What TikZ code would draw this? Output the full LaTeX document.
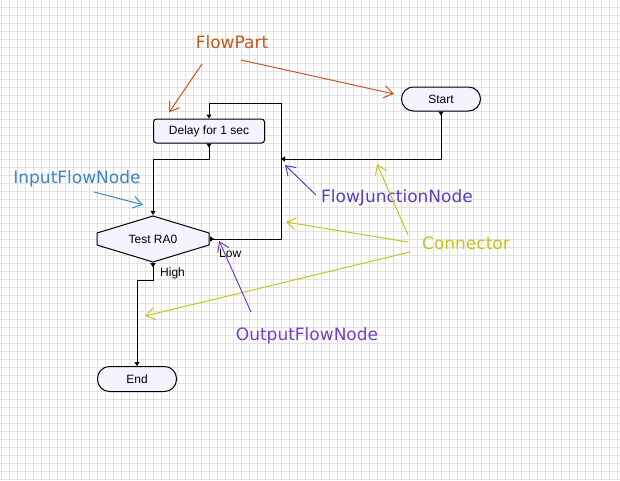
\documentclass[tikz,border=0pt]{standalone}
\usepackage{fontspec}
\setmainfont{Liberation Sans}
\newfontfamily\notefont{DejaVu Sans}
\usepackage{xcolor}
\usepackage{tikz}
\usetikzlibrary{arrows.meta}

\definecolor{partcol}{HTML}{C8561E}
\definecolor{inputcol}{HTML}{3D85C8}
\definecolor{junccol}{HTML}{5A3CCB}
\definecolor{conncol}{HTML}{C4C41E}
\definecolor{outputcol}{HTML}{7340CB}
\definecolor{gridcol}{HTML}{E2E2E2}
\definecolor{partfill}{HTML}{F4F4FF}

\begin{document}
\begin{tikzpicture}[x=1pt,y=-1pt,
    partfont/.style={font=\fontsize{12}{14}\selectfont},
    flowpart/.style={draw,fill=partfill,line width=1pt,minimum height=24pt,inner sep=0pt,partfont},
    terminal/.style={flowpart,rounded corners=12pt,minimum width=79pt},
    hexpart/.style={minimum width=114pt,minimum height=48pt,inner sep=0pt,partfont,
      path picture={\draw[line width=1pt,fill=partfill]
        ([shift={(1pt,6pt)}]path picture bounding box.west) -- ([yshift=-1pt]path picture bounding box.north)
        -- ([shift={(-1pt,6pt)}]path picture bounding box.east) -- ([shift={(-1pt,-6pt)}]path picture bounding box.east)
        -- ([yshift=1pt]path picture bounding box.south) -- ([shift={(1pt,-6pt)}]path picture bounding box.west) -- cycle;}},
    flow/.style={line width=1pt,{Triangle[length=4pt,width=5pt,reversed]}-{Triangle[length=4pt,width=5pt]}},
    note/.style={font=\notefont\fontsize{17}{20}\selectfont,anchor=base,inner sep=0pt,text=#1},
    pointer/.style={#1,line width=1pt,-{Straight Barb[length=9pt,width=12pt]}}]

    \fill[white] (0,0) rectangle (620,480);
    \useasboundingbox (0,0) rectangle (620,480);
    \foreach \x in {1,9,...,617} \draw[gridcol,line width=1pt] (\x,0) -- (\x,480);
    \foreach \y in {7,15,...,479} \draw[gridcol,line width=1pt] (0,\y) -- (620,\y);

    \node [terminal] (start) at (441,99) {Start};
    \node [flowpart,rounded corners=3pt,minimum width=111pt] (delay) at (209,131) {Delay for 1 sec};
    \node [hexpart] (test) at (153,239) {Test RA0};
    \node [terminal,minimum height=25pt] (end) at (137,379) {End};
    \coordinate (junc) at (281,159);
    \coordinate (looptop) at (281,103);

    \draw [flow] (start.south) |- (junc);
    \draw [flow] (test.east) -| (looptop) -| (delay.north);
    \draw [flow] (delay.south) -- ++(0,16) -| (test.north);
    \draw [flow] (test.south) -- ++(0,17) -| (end.north);
    \node [partfont,anchor=base west,inner sep=0pt] (high) at (160,276) {High};
    \node [partfont,anchor=base west,inner sep=0pt] (low) at (219,257) {Low};

    \node [note=partcol] (partnote) at (232,48) {FlowPart};
    \node [note=inputcol] (inputnote) at (77,183) {InputFlowNode};
    \node [note=junccol] (juncnote) at (397,202) {FlowJunctionNode};
    \node [note=conncol] (connnote) at (466,249) {Connector};
    \node [note=outputcol] (outputnote) at (307,340) {OutputFlowNode};

    \draw [pointer=partcol] ([shift={(-30,16)}]partnote.base) -- ([shift={(16,-6)}]delay.north west);
    \draw [pointer=partcol] ([shift={(9,12)}]partnote.base) -- ([shift={(-7,-5)}]start.west);
    \draw [pointer=inputcol] ([shift={(17,9)}]inputnote.base) -- ([shift={(-10,-10)}]test.north);
    \draw [pointer=junccol] ([shift={(-81,-7)}]juncnote.base) -- ([shift={(4,6)}]junc);
    \draw [pointer=conncol] ([shift={(-58,-14)}]connnote.base) -- ([shift={(96,5)}]junc);
    \draw [pointer=conncol] ([shift={(-58,-7)}]connnote.base) -- ([shift={(5,63)}]junc);
    \draw [pointer=conncol] ([shift={(-56,3)}]connnote.base) -- ([shift={(8,-50)}]end.north);
    \draw [pointer=outputcol] ([shift={(-56,-28)}]outputnote.base) -- ([shift={(9,2)}]test.east);
\end{tikzpicture}
\end{document}
